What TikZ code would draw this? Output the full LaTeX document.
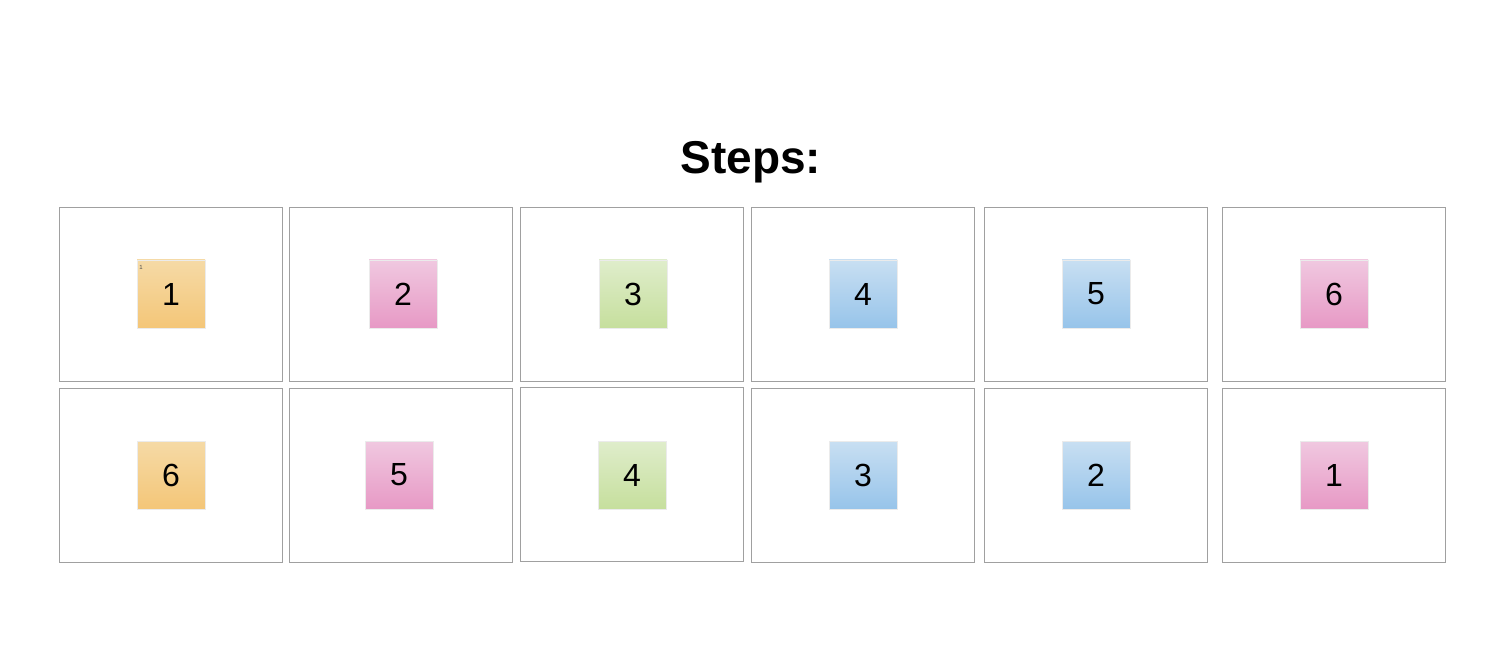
\documentclass[tikz,border=0pt]{standalone}
\usepackage{fontspec}
\setmainfont{Liberation Sans}
\definecolor{orT}{HTML}{F5DAA6}
\definecolor{orB}{HTML}{F4C678}
\definecolor{piT}{HTML}{F0C8E0}
\definecolor{piB}{HTML}{E799C5}
\definecolor{grT}{HTML}{DFEDCB}
\definecolor{grB}{HTML}{C6DF9D}
\definecolor{blT}{HTML}{C8DFF2}
\definecolor{blB}{HTML}{97C4EA}
\definecolor{frame}{HTML}{A0A0A0}
\begin{document}
\begin{tikzpicture}[x=0.75pt,y=-0.75pt,
  panel/.style={draw=frame,line width=0.6pt,minimum width=223*0.75pt,minimum height=174*0.75pt,inner sep=0pt},
  note/.style={draw=black!8,line width=0.4pt,minimum width=68*0.75pt,minimum height=68*0.75pt,inner sep=0pt,font=\fontsize{24pt}{28pt}\selectfont},
  orn/.style={note,top color=orT,bottom color=orB},
  pin/.style={note,top color=piT,bottom color=piB},
  grn/.style={note,top color=grT,bottom color=grB},
  bln/.style={note,top color=blT,bottom color=blB}]
\useasboundingbox (0,0) rectangle (1500,670);
\node[font=\bfseries\fontsize{34.5pt}{40pt}\selectfont] (title) at (751,162) {Steps:};
% row 1 panels
\node[panel] (p11) at (170.5,294) {};
\node[panel] (p12) at (400.5,294) {};
\node[panel] (p13) at (632,294) {};
\node[panel] (p14) at (862.5,294) {};
\node[panel] (p15) at (1095.5,294) {};
\node[panel] (p16) at (1333.5,294) {};
% row 2 panels
\node[panel] (p21) at (170.5,475) {};
\node[panel] (p22) at (401,475) {};
\node[panel] (p23) at (632,474.5) {};
\node[panel] (p24) at (862.5,475) {};
\node[panel] (p25) at (1095.5,475) {};
\node[panel] (p26) at (1333.5,475) {};
% row 1 notes
\node[orn] (n11) at (171,294) {1};
\node[pin] (n12) at (403,294) {2};
\node[grn] (n13) at (633,294) {3};
\node[bln] (n14) at (863,294) {4};
\node[bln] (n15) at (1096,294) {5};
\node[pin] (n16) at (1334,294) {6};
% row 2 notes
\node[orn] (n21) at (171,475) {6};
\node[pin] (n22) at (399,475) {5};
\node[grn] (n23) at (632,475) {4};
\node[bln] (n24) at (863,475) {3};
\node[bln] (n25) at (1096,475) {2};
\node[pin] (n26) at (1334,475) {1};
\node[font=\fontsize{4.5pt}{5pt}\selectfont,text=black!70,inner sep=0pt] (tag) at (141,267) {1};
\end{tikzpicture}
\end{document}
